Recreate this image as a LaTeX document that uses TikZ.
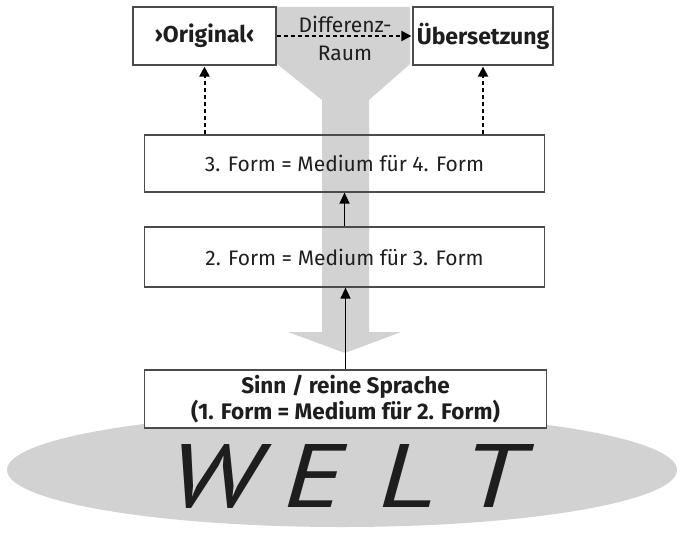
\documentclass[tikz,border=0pt]{standalone}
\usepackage{fontspec}
\setmainfont{Fira Sans}
\newfontfamily\weltfont{PT Sans}
\usetikzlibrary{arrows.meta}
\definecolor{fillgray}{RGB}{210,210,210}
\definecolor{linegray}{RGB}{75,75,75}
\definecolor{textgray}{RGB}{30,30,30}
\begin{document}
\begin{tikzpicture}[x=1pt,y=-1pt,
  box/.style={draw=linegray, line width=1.2pt, minimum width=400pt, minimum height=57pt, inner sep=0pt, text=textgray, font=\fontsize{21}{24}\selectfont},
  topbox/.style={box, fill=white, minimum width=143pt, minimum height=58pt, font=\bfseries\fontsize{23}{26}\selectfont},
  dasharrow/.style={line width=2pt, dash pattern=on 4pt off 3pt, -{Triangle[length=10pt,width=10pt]}, shorten >=1pt},
  solidarrow/.style={line width=1.3pt, -{Triangle[length=11pt,width=10pt]}}
]
\useasboundingbox (0,0) rectangle (684,532);
% background shapes
\fill[fillgray] (342,470) ellipse [x radius=335pt, y radius=57pt];
\fill[fillgray] (277,7) -- (410,7) -- (410,64) -- (369,100) -- (369,332) -- (401,332)
  -- (345,353) -- (288,332) -- (322,332) -- (322,100) -- (277,64) -- cycle;
% nodes
\node[topbox] (orig) at (204.5,36) {›Original‹};
\node[topbox, minimum width=140pt] (uebers) at (483,36) {Übersetzung};
\node[text=textgray, font=\fontsize{21}{28}\selectfont, align=center, inner sep=0pt] (diff) at (345,38) {Differenz-\\Raum};
\node[box] (f3) at (344.5,163.5) {3. Form = Medium für 4. Form};
\node[box, minimum height=60pt] (f2) at (344.5,257) {2. Form = Medium für 3. Form};
\node[box, fill=white, minimum width=402pt, minimum height=58pt, align=center,
      font=\bfseries\fontsize{22.5}{23}\selectfont] (sinn) at (345.5,399)
      {Sinn / reine Sprache\\(1. Form = Medium für 2. Form)};
\node[text=textgray, font=\weltfont\fontsize{90}{90}\itshape, inner sep=0pt] (welt) at (346,476)
      {\scalebox{1.3}[1]{W\kern18pt E\kern27pt L\kern20pt T}};
% connectors
\draw[dasharrow] (orig) -- (uebers);
\draw[dasharrow] (f3.north -| orig.south) -- (orig.south);
\draw[dasharrow] (f3.north -| uebers.south) -- (uebers.south);
\draw[solidarrow] (sinn.north) -- (sinn.north |- f2.south);
\draw[solidarrow] (f2.north) -- (f2.north |- f3.south);
\end{tikzpicture}
\end{document}
